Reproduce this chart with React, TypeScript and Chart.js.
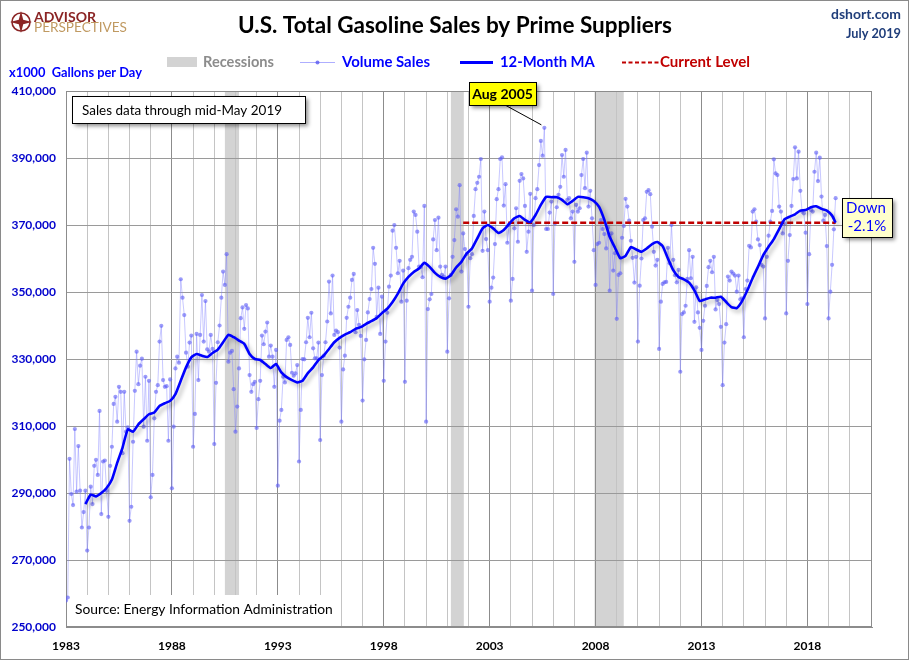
import React, { useEffect, useRef } from 'react';
import { Chart, registerables } from 'chart.js';

Chart.register(...registerables);

// ---------------- data ----------------
const FIRST_YEAR = 1983; // first month of volumeSales = Jan 1983

// Monthly volume sales (x1000 gallons per day), Jan 1983 .. May 2019
const volumeSales: number[] = [
  257900, 258800, 300200, 289700, 286400, 309100, 290400, 304000, 290700, 279700, 284300, 290700, // 1983
  272800, 279700, 291900, 286700, 298100, 299900, 295400, 314500, 283700, 299400, 299700, 290700, // 1984
  282900, 298100, 303800, 316600, 318700, 311300, 321700, 320200, 301900, 320200, 308300, 309600, // 1985
  281700, 285900, 305300, 320500, 332200, 322500, 328000, 330100, 309800, 324700, 305600, 323500, // 1986
  288700, 295400, 312300, 320200, 322200, 335200, 339900, 323700, 321700, 321900, 305600, 323900, // 1987
  291400, 309800, 327200, 330700, 328900, 353800, 348300, 343100, 331900, 327700, 334900, 337000, // 1988
  303800, 313600, 337500, 323700, 337200, 349100, 335200, 347300, 332900, 332200, 337200, 333000, // 1989
  304600, 322900, 335000, 340000, 348300, 356100, 352100, 361300, 329200, 331900, 332400, 321000, // 1990
  308300, 315800, 327200, 342200, 345400, 339000, 346100, 345100, 325200, 320200, 322500, 323200, // 1991
  309400, 318000, 323500, 337000, 334400, 338200, 340900, 330700, 334000, 330700, 321700, 332700, // 1992
  292200, 311600, 314800, 324700, 323000, 335700, 336500, 334200, 325900, 325000, 325700, 328200, // 1993
  299400, 314800, 330000, 329900, 335000, 342300, 336500, 343800, 333200, 330200, 330200, 334900, // 1994
  305800, 325200, 331000, 335000, 341200, 353100, 343600, 354900, 337200, 338500, 338000, 333400, // 1995
  311300, 326900, 331000, 342300, 345600, 348300, 353600, 355400, 338000, 344600, 340200, 336900, // 1996
  317600, 329900, 335700, 343900, 347900, 350900, 363200, 358400, 342600, 351300, 337500, 348600, // 1997
  323500, 335200, 343800, 351600, 354900, 368300, 370000, 363200, 355600, 359300, 347100, 356400, // 1998
  323200, 347400, 357100, 359600, 360500, 374000, 373000, 368000, 357600, 357400, 354400, 375700, // 1999
  311300, 344900, 347800, 349400, 365700, 371500, 362500, 372200, 357600, 355100, 354600, 357600, // 2000
  332200, 348100, 355100, 360500, 365500, 374700, 372500, 381900, 356100, 367500, 362800, 361300, // 2001
  345600, 360100, 361300, 372700, 380700, 382600, 384400, 389700, 362300, 374000, 365800, 362500, // 2002
  347100, 351300, 354300, 364300, 377700, 380700, 389700, 390200, 375800, 382200, 364700, 370000, // 2003
  347400, 353900, 369000, 375000, 365000, 383200, 385200, 383900, 375700, 362000, 368000, 379300, // 2004
  350400, 370000, 378000, 380700, 387900, 395100, 390700, 399000, 368800, 368800, 373700, 377000, // 2005
  349400, 370500, 375300, 379000, 381400, 390900, 384400, 392400, 377500, 378000, 372000, 374000, // 2006
  359000, 376000, 374000, 375000, 384900, 389700, 381000, 391600, 375500, 380200, 372000, 362500, // 2007
  352100, 364300, 364700, 371500, 368800, 367300, 363000, 369200, 350400, 367500, 356400, 361600, // 2008
  342000, 355100, 355600, 366200, 369700, 377800, 375500, 371300, 365300, 360200, 352800, 360500, // 2009
  335200, 351900, 360000, 371500, 372000, 379900, 380400, 379200, 369500, 362000, 357900, 359600, // 2010
  333000, 347100, 352400, 352900, 353000, 363200, 358600, 370000, 359600, 355000, 352900, 356600, // 2011
  326200, 343400, 343900, 345900, 353900, 362500, 354100, 360500, 341100, 351400, 343900, 339300, // 2012
  332700, 341400, 345900, 351800, 357400, 359300, 355900, 360500, 344800, 347600, 346400, 339600, // 2013
  322200, 334900, 340400, 354600, 353400, 356100, 355500, 354900, 350100, 354900, 347800, 348100, // 2014
  336500, 350900, 353400, 363800, 363300, 374000, 374700, 371000, 365700, 364000, 358100, 357600, // 2015
  342100, 360500, 366800, 371000, 374200, 389600, 385400, 384900, 375500, 374000, 367500, 370500, // 2016
  343600, 359300, 367000, 375700, 383700, 393200, 383900, 391900, 380200, 374000, 373500, 367700, // 2017
  346400, 361300, 374500, 374000, 385900, 391600, 383100, 390100, 378500, 371300, 373000, 363700, // 2018
  342100, 350100, 358100, 368700, 378000, // 2019
];

// 12-month moving average, every 3 months from Dec 1983 to Mar 2019
const ma12Quarterly: number[] = [
  286700,
  289500, 289000, 290000, 291500, // 1984
  294000, 299000, 303500, 309000, // 1985
  308300, 310500, 312000, 313500, // 1986
  314000, 316000, 316800, 317500, // 1987
  319500, 323500, 327500, 330500, // 1988
  331500, 331000, 330600, 331800, // 1989
  332800, 335000, 337200, 336500, // 1990
  335500, 334500, 331500, 330000, // 1991
  329700, 328500, 327300, 328500, // 1992
  326000, 324600, 323700, 323000, // 1993
  323500, 325800, 327500, 329700, // 1994
  331000, 333000, 335000, 336300, // 1995
  337300, 338000, 339000, 339500, // 1996
  340500, 341300, 342200, 343700, // 1997
  345000, 347000, 349500, 352500, // 1998
  354500, 356000, 357000, 358700, // 1999
  357500, 355700, 354500, 354000, // 2000
  355000, 357300, 359000, 361500, // 2001
  363000, 366000, 369000, 370000, // 2002
  369000, 367600, 368500, 370300, // 2003
  372000, 372700, 371500, 370800, // 2004
  373000, 376000, 378400, 378300, // 2005
  378300, 377500, 376200, 377200, // 2006
  378400, 378300, 378000, 377200, // 2007
  375400, 371500, 366500, 363200, // 2008
  360100, 360800, 363400, 362700, // 2009
  362000, 363000, 364300, 364900, // 2010
  363700, 360000, 356500, 354500, // 2011
  353800, 352800, 350500, 347300, // 2012
  347800, 348300, 348300, 348600, // 2013
  347000, 345500, 345200, 347300, // 2014
  350500, 354200, 357500, 361000, // 2015
  363500, 365800, 368800, 371700, // 2016
  372500, 373200, 374300, 374500, // 2017
  375300, 375600, 374800, 374300, // 2018
  372800, // Mar 2019
];
const ma12Latest = 370700; // May 2019

const currentLevel = 370700;
const currentLevelFrom = 2001.75;
const latestDate = 2019 + 4 / 12; // May 2019

const recessionStarts: number[] = [1990.5, 2001.17, 2007.95];
const recessionEnds: number[] = [1991.17, 2001.78, 2009.33];

const labeledYears: number[] = [1983, 1988, 1993, 1998, 2003, 2008, 2013, 2018];
const X_MIN = 1983;
const X_MAX = 2021.05;
const Y_MIN = 250000;
const Y_MAX = 410000;
const Y_STEP = 20000;

const peakLabel = 'Aug 2005';
const peakDate = 2005 + 7 / 12;
const peakValue = 399000;
const changeText = ['Down', '-2.1%'];

// ---------------- helpers ----------------
const FAM = 'Lato';
function fitFont(ctx: CanvasRenderingContext2D, text: string, weight: string, target: number) {
  ctx.font = `${weight} 100px ${FAM}`;
  const w = ctx.measureText(text).width;
  return `${weight} ${((100 * target) / w).toFixed(2)}px ${FAM}`;
}
function drawFit(ctx: CanvasRenderingContext2D, text: string, x: number, y: number, w: number, weight: string, color: string) {
  ctx.font = fitFont(ctx, text, weight, w);
  ctx.fillStyle = color;
  ctx.textAlign = 'left';
  ctx.textBaseline = 'alphabetic';
  ctx.fillText(text, x, y);
}
function shadowBox(ctx: CanvasRenderingContext2D, x: number, y: number, w: number, h: number, fill: string) {
  ctx.save();
  ctx.shadowColor = 'rgba(0,0,0,0.45)';
  ctx.shadowBlur = 4;
  ctx.shadowOffsetX = 3;
  ctx.shadowOffsetY = 3;
  ctx.fillStyle = fill;
  ctx.fillRect(x, y, w, h);
  ctx.restore();
  ctx.strokeStyle = '#000';
  ctx.lineWidth = 1;
  ctx.strokeRect(x + 0.5, y + 0.5, w, h);
}

const MA_INDEX = 2;

const decoPlugin = {
  id: 'deco',
  beforeDraw(chart: any) {
    const { ctx, chartArea: a } = chart;
    const xs = chart.scales.x;
    ctx.save();
    ctx.fillStyle = '#ffffff';
    ctx.fillRect(0, 0, chart.width, chart.height);
    ctx.fillStyle = '#d3d3d3';
    recessionStarts.forEach((s, i) => {
      const x0 = xs.getPixelForValue(s);
      const x1 = xs.getPixelForValue(recessionEnds[i]);
      ctx.fillRect(x0, a.top, x1 - x0, a.bottom - a.top);
    });
    ctx.restore();
  },
  beforeDatasetsDraw(chart: any) {
    const { ctx, chartArea: a } = chart;
    ctx.save();
    ctx.strokeStyle = '#8c8c8c';
    ctx.lineWidth = 1;
    ctx.strokeRect(a.left + 0.5, a.top + 0.5, a.right - a.left - 1, a.bottom - a.top - 1);
    // source note on white background
    ctx.fillStyle = '#ffffff';
    ctx.fillRect(a.left + 1, 595, 274, 31);
    drawFit(ctx, 'Source: Energy Information Administration', 75, 614, 258, 'normal', '#000000');
    ctx.restore();
  },
  beforeDatasetDraw(chart: any, args: any) {
    if (args.index === MA_INDEX) {
      const ctx = chart.ctx;
      ctx.save();
      ctx.shadowColor = 'rgba(0,0,0,0.28)';
      ctx.shadowBlur = 4;
      ctx.shadowOffsetX = 3;
      ctx.shadowOffsetY = 3;
    }
  },
  afterDatasetDraw(chart: any, args: any) {
    if (args.index === MA_INDEX) chart.ctx.restore();
  },
  afterDraw(chart: any) {
    const { ctx } = chart;
    const xs = chart.scales.x;
    const ys = chart.scales.y;
    ctx.save();

    // title
    drawFit(ctx, 'U.S. Total Gasoline Sales by Prime Suppliers', 238, 33, 434, 'bold', '#000000');

    // logo
    ctx.strokeStyle = '#8b2525';
    ctx.lineWidth = 1.6;
    ctx.beginPath();
    ctx.arc(21, 22, 9, 0, Math.PI * 2);
    ctx.stroke();
    ctx.fillStyle = '#8b2525';
    ctx.beginPath();
    const cx = 21, cy = 22;
    const pts: [number, number][] = [
      [cx, cy - 11], [cx + 2.2, cy - 2.2], [cx + 11, cy], [cx + 2.2, cy + 2.2],
      [cx, cy + 11], [cx - 2.2, cy + 2.2], [cx - 11, cy], [cx - 2.2, cy - 2.2],
    ];
    pts.forEach((p, i) => (i === 0 ? ctx.moveTo(p[0], p[1]) : ctx.lineTo(p[0], p[1])));
    ctx.closePath();
    ctx.fill();
    drawFit(ctx, 'ADVISOR', 34, 22, 62, 'bold', '#8b2525');
    drawFit(ctx, 'PERSPECTIVES', 34, 32, 93, 'normal', '#c09a62');

    // top right
    drawFit(ctx, 'dshort.com', 831, 19, 70, 'bold', '#1f3d7a');
    drawFit(ctx, 'July 2019', 846, 38, 55, 'bold', '#1f3d7a');

    // legend
    ctx.fillStyle = '#d3d3d3';
    ctx.fillRect(167, 57, 30, 10);
    drawFit(ctx, 'Recessions', 203, 67, 71, 'bold', '#8c8c8c');
    ctx.strokeStyle = 'rgba(120,120,255,0.6)';
    ctx.lineWidth = 1;
    ctx.beginPath();
    ctx.moveTo(300, 62.5);
    ctx.lineTo(335, 62.5);
    ctx.stroke();
    ctx.fillStyle = 'rgba(90,90,240,0.8)';
    ctx.beginPath();
    ctx.arc(317.5, 62.5, 2, 0, Math.PI * 2);
    ctx.fill();
    drawFit(ctx, 'Volume Sales', 342, 67, 88, 'bold', '#0000ff');
    ctx.strokeStyle = '#0000ff';
    ctx.lineWidth = 3;
    ctx.beginPath();
    ctx.moveTo(460, 62.5);
    ctx.lineTo(493, 62.5);
    ctx.stroke();
    drawFit(ctx, '12-Month MA', 500, 67, 95, 'bold', '#0000ff');
    ctx.strokeStyle = '#c00000';
    ctx.lineWidth = 2;
    ctx.setLineDash([4, 2.5]);
    ctx.beginPath();
    ctx.moveTo(622, 62.5);
    ctx.lineTo(659, 62.5);
    ctx.stroke();
    ctx.setLineDash([]);
    drawFit(ctx, 'Current Level', 660, 67, 90, 'bold', '#c00000');

    // y axis title
    drawFit(ctx, 'x1000  Gallons per Day', 9, 77, 133, 'bold', '#0000ff');

    // sales data note
    shadowBox(ctx, 72, 96, 233, 27, '#ffffff');
    drawFit(ctx, 'Sales data through mid-May 2019', 82, 115, 200, 'normal', '#000000');

    // Aug 2005 callout
    const px = xs.getPixelForValue(peakDate);
    const py = ys.getPixelForValue(peakValue);
    ctx.strokeStyle = '#000000';
    ctx.lineWidth = 1;
    ctx.beginPath();
    ctx.moveTo(505, 105);
    ctx.lineTo(px - 3, py - 3);
    ctx.stroke();
    shadowBox(ctx, 469, 82, 67, 23, '#ffff00');
    ctx.font = `bold 14px ${FAM}`;
    ctx.fillStyle = '#000000';
    ctx.textAlign = 'center';
    ctx.fillText(peakLabel, 502.5, 99);

    // Down box
    shadowBox(ctx, 842, 198, 50, 39, '#ffffcc');
    ctx.font = `normal 15px ${FAM}`;
    ctx.fillStyle = '#0000ff';
    ctx.textAlign = 'center';
    ctx.fillText(changeText[0], 866, 213);
    ctx.fillText(changeText[1], 867, 231);

    // outer frame
    ctx.strokeStyle = '#8a8a8a';
    ctx.lineWidth = 1;
    ctx.strokeRect(0.5, 0.5, chart.width - 2, chart.height - 2);
    ctx.restore();
  },
};

export default function App() {
  const ref = useRef<HTMLCanvasElement | null>(null);

  useEffect(() => {
    if (!ref.current) return;
    Chart.defaults.font.family = FAM;

    const volumePoints = volumeSales.map((v, i) => ({ x: FIRST_YEAR + i / 12, y: v }));
    const maPoints = ma12Quarterly.map((v, i) => ({ x: FIRST_YEAR + 11 / 12 + i * 0.25, y: v }));
    maPoints.push({ x: latestDate, y: ma12Latest });
    const levelPoints = [
      { x: currentLevelFrom, y: currentLevel },
      { x: latestDate, y: currentLevel },
    ];

    const chart = new Chart(ref.current, {
      type: 'line',
      data: {
        datasets: [
          {
            label: 'Volume Sales',
            data: volumePoints,
            borderColor: 'rgba(125,125,255,0.42)',
            borderWidth: 1,
            pointRadius: 2.1,
            pointBackgroundColor: 'rgba(95,95,245,0.62)',
            pointBorderWidth: 0,
            pointHoverRadius: 0,
            order: 2,
          },
          {
            label: 'Current Level',
            data: levelPoints,
            borderColor: '#c00000',
            borderWidth: 2.5,
            borderDash: [6, 3],
            pointRadius: 0,
            order: 1,
          },
          {
            label: '12-Month MA',
            data: maPoints,
            borderColor: '#0000ff',
            borderWidth: 2.6,
            pointRadius: 0,
            tension: 0.15,
            order: 0,
          },
        ],
      },
      options: {
        responsive: false,
        animation: false,
        events: [],
        layout: { padding: { top: 91, right: 38, bottom: 0, left: 0 } },
        plugins: {
          legend: { display: false },
          title: { display: false },
          tooltip: { enabled: false },
        },
        scales: {
          x: {
            type: 'linear',
            min: X_MIN,
            max: X_MAX,
            afterBuildTicks: (scale: any) => {
              const t: { value: number }[] = [];
              for (let yr = 1983; yr <= 2020; yr++) t.push({ value: yr });
              scale.ticks = t;
            },
            afterFit: (scale: any) => {
              scale.height = 34;
            },
            grid: {
              color: (c: any) =>
                c.tick && labeledYears.includes(c.tick.value) ? '#8c8c8c' : '#c4c4c4',
              lineWidth: 1,
              drawTicks: false,
            },
            border: { display: true, color: '#8c8c8c' },
            ticks: {
              autoSkip: false,
              maxRotation: 0,
              padding: 12,
              color: '#000000',
              font: { size: 12, weight: 'bold', family: FAM },
              callback: (v: any) => (labeledYears.includes(Number(v)) ? String(v) : ''),
            },
          },
          y: {
            min: Y_MIN,
            max: Y_MAX,
            afterFit: (scale: any) => {
              scale.width = 66;
            },
            grid: { color: '#9a9a9a', lineWidth: 1, drawTicks: false },
            border: { display: true, color: '#8c8c8c' },
            ticks: {
              stepSize: Y_STEP,
              padding: 10,
              color: '#0000cc',
              font: { size: 12, weight: 'bold', family: FAM },
              callback: (v: any) => Number(v).toLocaleString('en-US'),
            },
          },
        },
      } as any,
      plugins: [decoPlugin],
    });
    return () => chart.destroy();
  }, []);

  return (
    <div style={{ position: 'fixed', left: 0, top: 0, width: 910, height: 661, background: '#fff' }}>
      <canvas ref={ref} width={910} height={661} style={{ display: 'block', width: 910, height: 661 }} />
    </div>
  );
}
